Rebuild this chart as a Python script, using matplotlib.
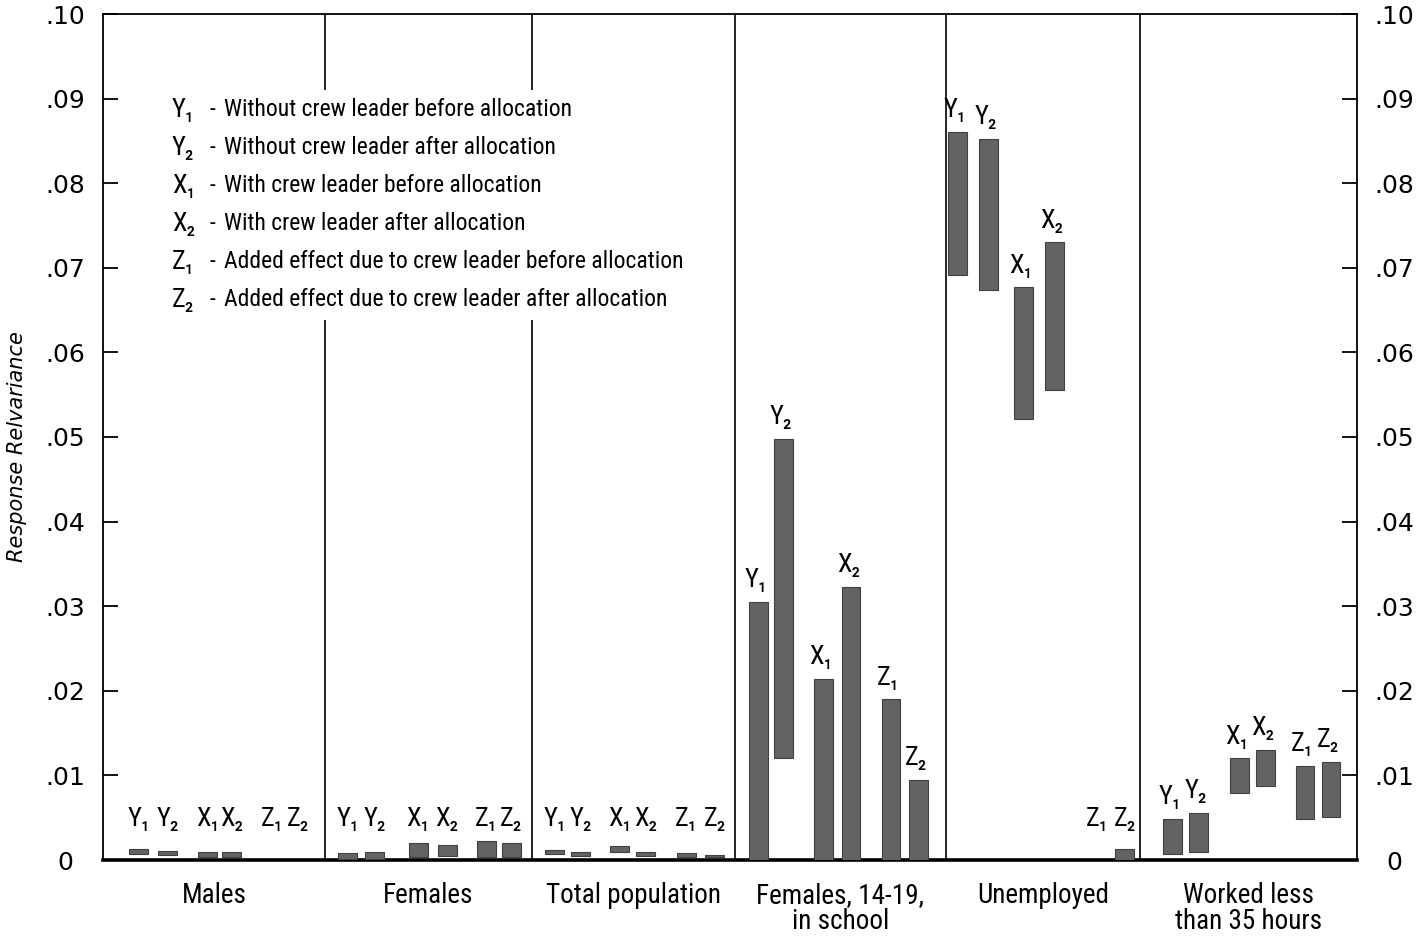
import numpy as np
import matplotlib
matplotlib.use("Agg")
import matplotlib.pyplot as plt
from matplotlib import font_manager
from matplotlib.patches import Rectangle
from matplotlib.transforms import offset_copy

# ---- data -------------------------------------------------------------
groups = ["Males", "Females", "Total population", "Females, 14-19,\nin school",
          "Unemployed", "Worked less\nthan 35 hours"]
series = ["Y₁", "Y₂", "X₁", "X₂", "Z₁", "Z₂"]
nan = np.nan

y1_low = [0.0007, 0.0001, 0.0007, 0.0, 0.0692, 0.0007]
y1_high = [0.0013, 0.0008, 0.0012, 0.0305, 0.0861, 0.0049]
y2_low = [0.0006, 0.0001, 0.0005, 0.0121, 0.0674, 0.0010]
y2_high = [0.0011, 0.0009, 0.0010, 0.0498, 0.0852, 0.0056]
x1_low = [0.0004, 0.0004, 0.0010, 0.0, 0.0521, 0.0079]
x1_high = [0.0009, 0.0020, 0.0016, 0.0214, 0.0677, 0.0120]
x2_low = [0.0004, 0.0005, 0.0005, 0.0, 0.0556, 0.0087]
x2_high = [0.0010, 0.0018, 0.0010, 0.0323, 0.0730, 0.0130]
z1_low = [nan, 0.0004, 0.0004, 0.0, nan, 0.0048]
z1_high = [nan, 0.0023, 0.0008, 0.0190, nan, 0.0111]
z2_low = [nan, 0.0003, 0.0003, 0.0, 0.0, 0.0051]
z2_high = [nan, 0.0020, 0.0006, 0.0095, 0.0013, 0.0116]

lows = [y1_low, y2_low, x1_low, x2_low, z1_low, z2_low]
highs = [y1_high, y2_high, x1_high, x2_high, z1_high, z2_high]

legend_text = [
    "Without crew leader before allocation",
    "Without crew leader after allocation",
    "With crew leader before allocation",
    "With crew leader after allocation",
    "Added effect due to crew leader before allocation",
    "Added effect due to crew leader after allocation",
]

y_ticks = [0.0, 0.01, 0.02, 0.03, 0.04, 0.05, 0.06, 0.07, 0.08, 0.09, 0.10]
y_ticklabels = ["0", ".01", ".02", ".03", ".04", ".05", ".06", ".07", ".08", ".09", ".10"]

# ---- layout -----------------------------------------------------------
edges = [0.0, 1.062, 2.053, 3.024, 4.033, 4.962, 6.0]
slots = [
    [0.16, 0.29, 0.47, 0.58, 0.76, 0.88],
    [0.11, 0.24, 0.45, 0.59, 0.78, 0.90],
    [0.11, 0.24, 0.43, 0.56, 0.76, 0.90],
    [0.11, 0.23, 0.42, 0.55, 0.74, 0.87],
    [0.06, 0.22, 0.40, 0.56, 0.78, 0.92],
    [0.15, 0.27, 0.46, 0.58, 0.76, 0.88],
]
# True -> label sits in a row near the baseline instead of above its bar
row_labels = [
    [True] * 6, [True] * 6, [True] * 6, [False] * 6,
    [False, False, False, False, True, True], [False] * 6,
]
row_y = 0.0049
bar_w = 0.09

# narrow sans for the annotations; fall back to Roboto
available = {f.name for f in font_manager.fontManager.ttflist}
narrow = next((n for n in ["Liberation Sans Narrow", "Roboto Condensed",
                           "Open Sans Condensed", "Roboto"] if n in available),
              "DejaVu Sans")
cond = [narrow, "DejaVu Sans"]

W, H = 1427, 940
fig = plt.figure(figsize=(W / 100, H / 100), dpi=100)
ax = fig.add_axes([103 / W, 80 / H, (1357 - 103) / W, (860 - 14) / H])

bar_color = "#636363"

for g in range(len(groups)):
    g0, g1 = edges[g], edges[g + 1]
    for s in range(len(series)):
        x = g0 + slots[g][s] * (g1 - g0)
        lo, hi = lows[s][g], highs[s][g]
        if not np.isnan(hi):
            ax.bar(x, hi - lo, bottom=lo, width=bar_w, color=bar_color,
                   edgecolor="#404040", linewidth=0.8, zorder=3)
        if row_labels[g][s]:
            ax.text(x, row_y, series[s], ha="center", va="center",
                    fontsize=19, family=cond, zorder=5)
        else:
            tr = offset_copy(ax.transData, fig=fig, x=-2, y=7, units="points")
            ax.text(x, hi, series[s], ha="center", va="bottom", transform=tr,
                    fontsize=19, family=cond, zorder=5)

# group dividers
for e in edges[1:-1]:
    ax.plot([e, e], [0, 0.10], color="black", lw=1.2, zorder=2)

# group names below the axis
for g, name in enumerate(groups):
    xm = 0.5 * (edges[g] + edges[g + 1])
    ax.text(xm, -0.0026, name, ha="center", va="top", fontsize=19.5,
            family=cond, linespacing=0.95, clip_on=False)

# legend block
ax.add_patch(Rectangle((0.29, 0.0638), 2.52, 0.0272, facecolor="white",
                       edgecolor="none", zorder=4))
leg_y = [0.0887, 0.0842, 0.0797, 0.0752, 0.0707, 0.0662]
for s, (lab, txt) in enumerate(zip(series, legend_text)):
    ax.text(0.33, leg_y[s], lab, ha="left", va="center", fontsize=19,
            family=cond, zorder=5)
    ax.text(0.51, leg_y[s], "-", ha="left", va="center", fontsize=17,
            family=cond, zorder=5)
    ax.text(0.579, leg_y[s], txt, ha="left", va="center", fontsize=17,
            family=cond, zorder=5)

ax.set_xlim(edges[0], edges[-1])
ax.set_ylim(0, 0.10)
ax.set_xticks([])
ax.set_yticks(y_ticks)
ax.set_yticklabels(y_ticklabels)
ax.tick_params(axis="y", direction="in", length=11, width=1.3,
               labelsize=18, left=True, right=True, labelleft=True,
               labelright=True)
for tk in ax.yaxis.get_major_ticks():
    tk.set_pad(27)
    tk.label1.set_horizontalalignment("center")
    tk.label2.set_horizontalalignment("center")
for sp in ["left", "right", "top"]:
    ax.spines[sp].set_linewidth(1.3)
ax.spines["bottom"].set_linewidth(2.6)

ax.set_ylabel("Response Relvariance", fontsize=15, style="italic")
ax.yaxis.set_label_coords(-0.061, 0.489)

fig.savefig("out.png", dpi=100)
